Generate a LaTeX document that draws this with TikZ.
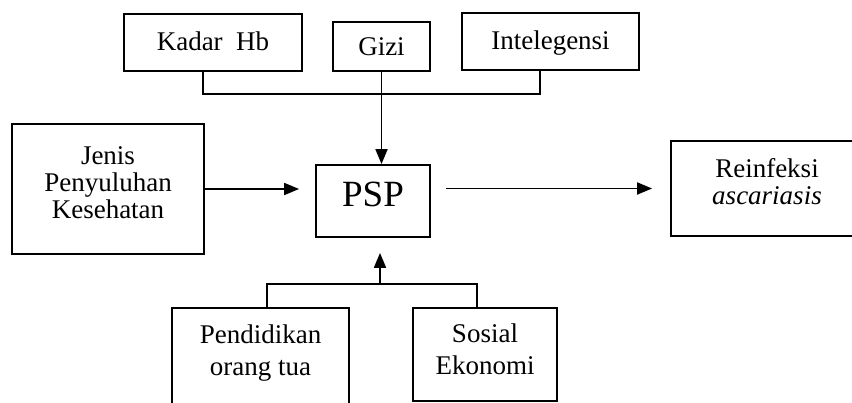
\documentclass[tikz,border=0pt]{standalone}
\usepackage{fontspec}
\setmainfont{Liberation Serif}
\usetikzlibrary{arrows.meta}
\begin{document}
\begin{tikzpicture}[x=1pt,y=-1pt,
  box/.style={draw, line width=1.8pt, align=center, inner sep=0pt,
    font=\fontsize{27}{27}\selectfont},
  wire/.style={line width=1.8pt},
  arr/.style={wire, -{Triangle[length=15pt,width=12pt]}}]
\useasboundingbox (0,0) rectangle (852,403);
% top row
\node[box, minimum width=178pt, minimum height=57pt, text depth=3pt] (kadar) at (213,42.5) {Kadar\ \ Hb};
\node[box, minimum width=97pt, minimum height=49pt] (gizi) at (381.5,46.5) {Gizi};
\node[box, minimum width=177pt, minimum height=57pt, text depth=3pt] (intel) at (550.5,41.5) {Intelegensi};
% middle row
\node[box, minimum width=192pt, minimum height=130pt, text depth=13pt] (jenis) at (108,189) {Jenis\\Penyuluhan\\Kesehatan};
\node[box, minimum width=114pt, minimum height=72pt, text depth=14pt, font=\fontsize{37}{40}\selectfont] (psp) at (373,201) {PSP};
\node[box, minimum width=192pt, minimum height=95pt, text depth=15pt] (rein) at (767,188.5) {Reinfeksi\\\textit{ascariasis}};
% bottom row
\node[box, minimum width=177pt, minimum height=98pt, text depth=14pt, font=\fontsize{27}{32}\selectfont] (pend) at (260.5,357) {Pendidikan\\orang tua};
\node[box, minimum width=144pt, minimum height=93pt, text depth=10pt, font=\fontsize{27}{32}\selectfont] (sosial) at (485,354.5) {Sosial\\Ekonomi};
% top bracket
\coordinate (tl) at (203,94);
\coordinate (tr) at (540,94);
\draw[wire] (kadar.south -| tl) -- (tl) -- (tr) -- (intel.south -| tr);
\draw[arr] (gizi.south) -- (gizi.south |- psp.north);
% left and right arrows
\draw[arr, shorten >=16pt] (jenis.east) -- (jenis.east -| psp.west);
\draw[arr, shorten <=15pt, shorten >=18pt] (psp.east |- rein.west) -- (rein.west);
% bottom bracket
\coordinate (bl) at (267,284);
\coordinate (br) at (477,284);
\coordinate (bm) at (380,284);
\draw[wire] (pend.north -| bl) -- (bl) -- (br) -- (sosial.north -| br);
\draw[arr, shorten >=15pt] (bm) -- (bm |- psp.south);
\end{tikzpicture}
\end{document}
